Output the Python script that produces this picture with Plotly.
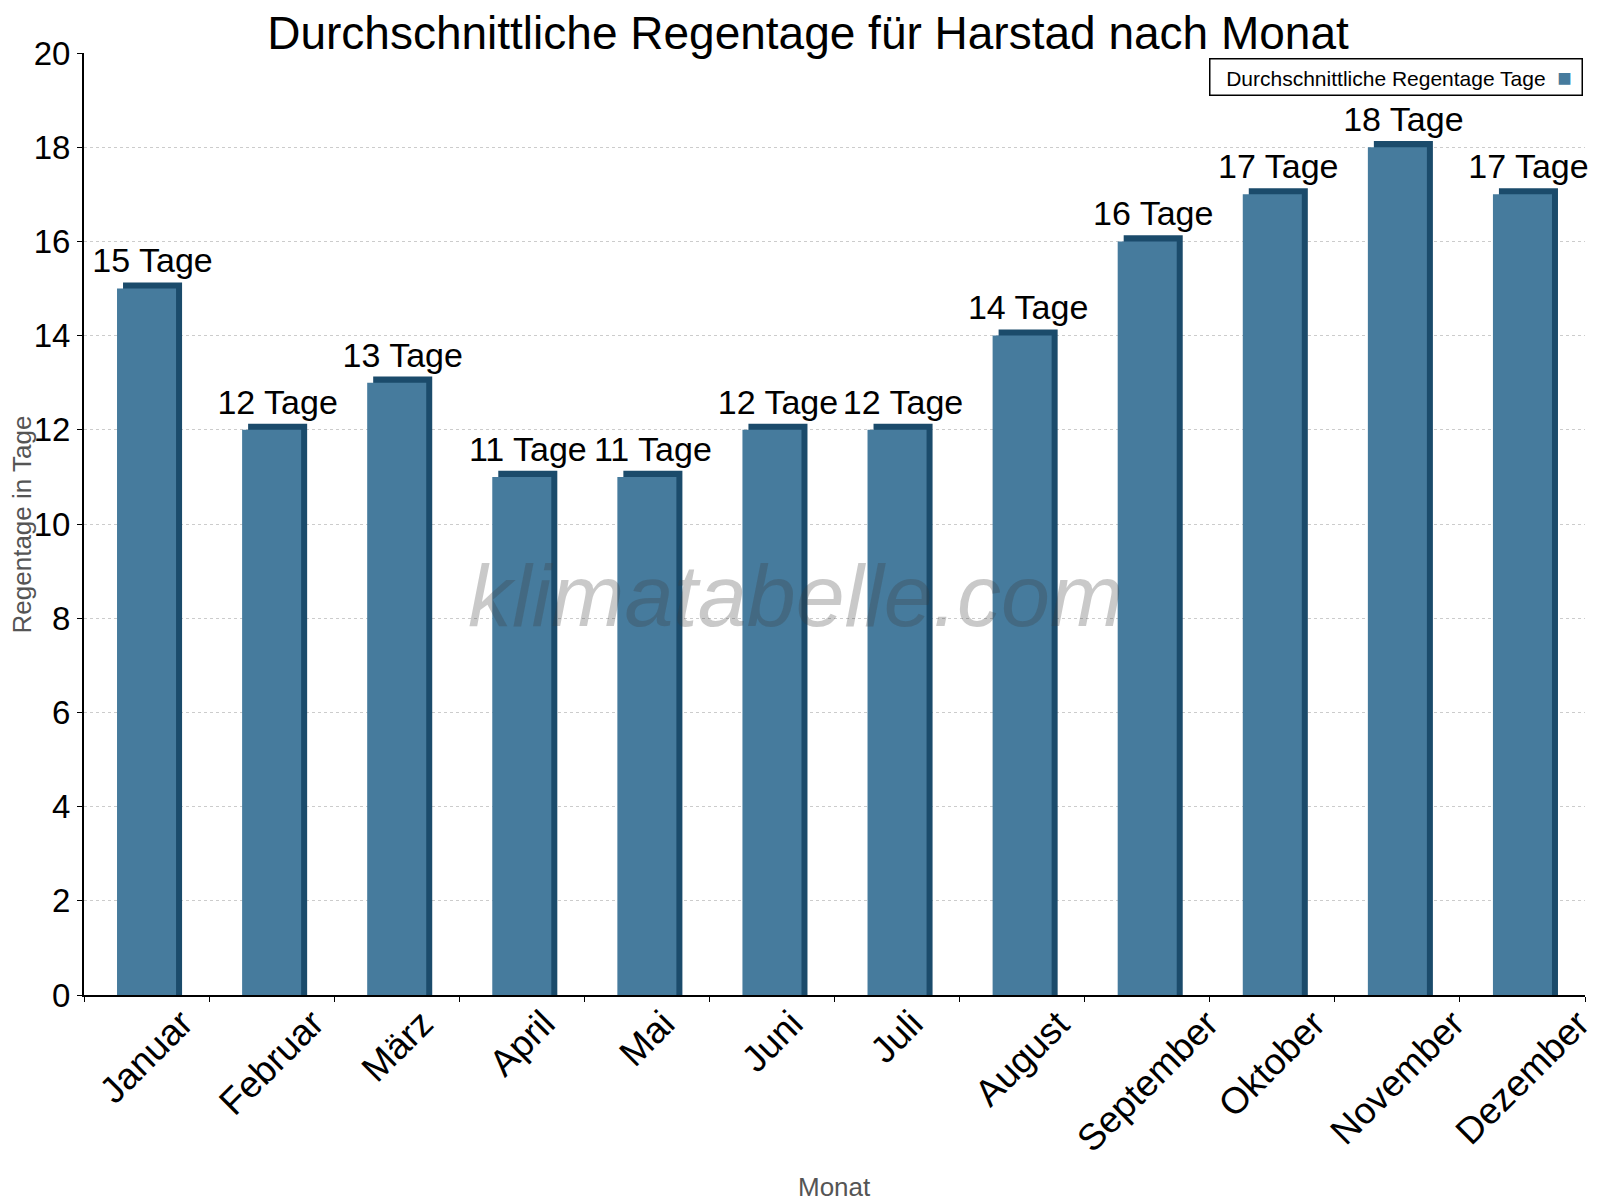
import plotly.graph_objects as go

monate = ['Januar', 'Februar', 'März', 'April', 'Mai', 'Juni', 'Juli',
          'August', 'September', 'Oktober', 'November', 'Dezember']
regentage = [15, 12, 13, 11, 11, 12, 12, 14, 16, 17, 18, 17]
labels = ['%d Tage' % v for v in regentage]

front = '#467b9d'
side = '#1b4b6b'
depth = 0.13  # kleiner 3D-Effekt

fig = go.Figure()

# dunkle Seitenflaeche (leicht versetzt)
fig.add_trace(go.Bar(
    x=monate, y=[v + depth for v in regentage],
    width=0.472, offset=-0.236 + 0.048,
    marker=dict(color=side, line=dict(width=0)),
    text=labels, textposition='outside', cliponaxis=False,
    constraintext='none',
    textfont=dict(size=34, color='black'),
    showlegend=False, hoverinfo='skip'
))

# Vorderseite
fig.add_trace(go.Bar(
    x=monate, y=regentage,
    width=0.472, offset=-0.236,
    marker=dict(color=front, line=dict(width=0)),
    name='Durchschnittliche Regentage Tage',
    showlegend=False
))

# gedrehte Monatsnamen, mittig unter jeder Kategorie
monat_labels = [
    dict(text=m, xref='x', yref='paper', x=m, y=-0.005,
         xanchor='center', yanchor='top', textangle=-45, showarrow=False,
         font=dict(size=37, color='black'))
    for m in monate
]

fig.update_layout(
    width=1600, height=1200,
    barmode='overlay',
    plot_bgcolor='white', paper_bgcolor='white',
    font=dict(family='Liberation Sans, Arial, sans-serif', color='black'),
    margin=dict(l=76, r=23, t=45, b=213, autoexpand=False),
    title=dict(text='Durchschnittliche Regentage für Harstad nach Monat',
               x=0.5, xanchor='center', y=0.993, yanchor='top',
               font=dict(size=46, color='black')),
    xaxis=dict(
        range=[-0.5, len(monate) - 0.5],
        showticklabels=False,
        showline=True, linecolor='black', linewidth=2,
        ticks='outside', tickson='boundaries', ticklen=5, tickcolor='black',
        showgrid=False, automargin=False
    ),
    yaxis=dict(
        range=[0, 20], dtick=2, tickfont=dict(size=33, color='black'),
        showline=True, linecolor='black', linewidth=2,
        ticks='outside', ticklen=5, tickcolor='black',
        showgrid=True, gridcolor='#cccccc', griddash='dot', gridwidth=1,
        zeroline=False, automargin=False
    ),
    annotations=monat_labels + [
        dict(text='Monat', xref='paper', yref='paper', x=0.5, y=-0.204,
             xanchor='center', yanchor='middle', showarrow=False,
             font=dict(size=26, color='#555555')),
        dict(text='Regentage in Tage', xref='paper', yref='paper',
             x=-0.041, y=0.5, xanchor='center', yanchor='middle',
             textangle=-90, showarrow=False,
             font=dict(size=26, color='#555555')),
        dict(text='klimatabelle.com', xref='paper', yref='paper',
             x=0.474, y=0.424, showarrow=False,
             font=dict(size=88, color='rgba(60,60,60,0.28)', style='italic',
                       family='Liberation Sans, Arial, sans-serif')),
        dict(text='&nbsp;&nbsp;Durchschnittliche Regentage Tage&nbsp;&nbsp;'
                  '<span style="color:#467b9d;font-size:24px">■</span>&nbsp;',
             xref='paper', yref='paper', x=0.9987, y=0.9947,
             xanchor='right', yanchor='top', showarrow=False,
             font=dict(size=21, color='black'),
             bordercolor='black', borderwidth=1.5, borderpad=4, bgcolor='white')
    ]
)

fig.write_html('out.html')
